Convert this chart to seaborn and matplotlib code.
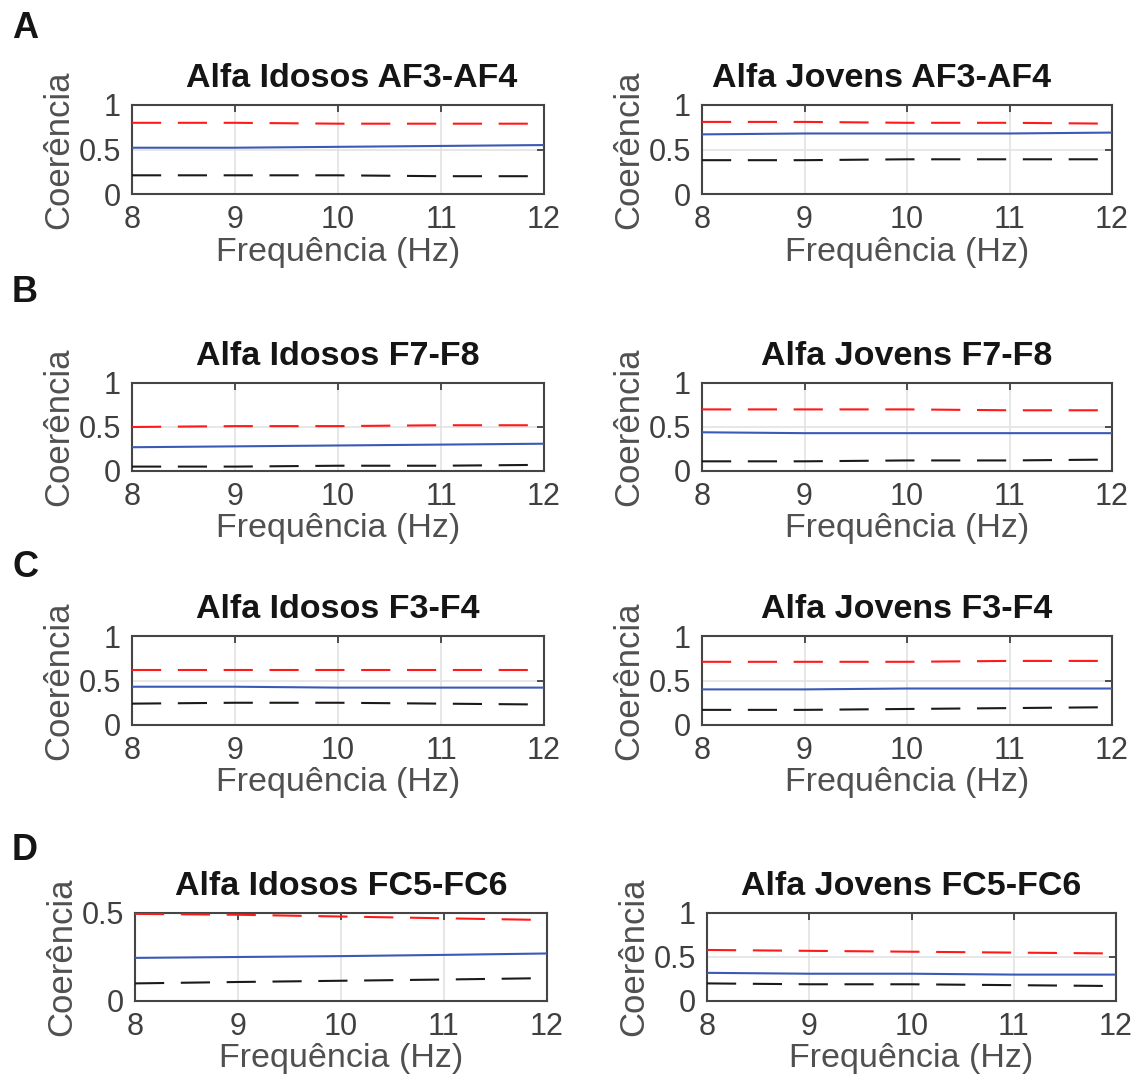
import matplotlib
matplotlib.use("Agg")
import matplotlib.pyplot as plt
import pandas as pd
import seaborn as sns

# Frequency axis (Hz)
freq = [8, 9, 10, 11, 12]

# Coherence, upper (red) and lower (black) significance bounds per electrode pair
idosos_af3af4_sup = [0.80, 0.80, 0.79, 0.79, 0.79]
idosos_af3af4_coh = [0.52, 0.52, 0.53, 0.54, 0.55]
idosos_af3af4_inf = [0.21, 0.21, 0.21, 0.20, 0.20]

jovens_af3af4_sup = [0.81, 0.81, 0.80, 0.80, 0.79]
jovens_af3af4_coh = [0.67, 0.68, 0.68, 0.68, 0.69]
jovens_af3af4_inf = [0.38, 0.38, 0.39, 0.39, 0.39]

idosos_f7f8_sup = [0.50, 0.51, 0.51, 0.52, 0.52]
idosos_f7f8_coh = [0.27, 0.28, 0.29, 0.30, 0.31]
idosos_f7f8_inf = [0.05, 0.05, 0.06, 0.06, 0.07]

jovens_f7f8_sup = [0.70, 0.70, 0.70, 0.69, 0.69]
jovens_f7f8_coh = [0.44, 0.43, 0.43, 0.43, 0.43]
jovens_f7f8_inf = [0.11, 0.11, 0.12, 0.12, 0.13]

idosos_f3f4_sup = [0.62, 0.62, 0.62, 0.62, 0.62]
idosos_f3f4_coh = [0.43, 0.43, 0.42, 0.42, 0.42]
idosos_f3f4_inf = [0.24, 0.25, 0.25, 0.24, 0.23]

jovens_f3f4_sup = [0.71, 0.71, 0.71, 0.72, 0.72]
jovens_f3f4_coh = [0.40, 0.40, 0.41, 0.41, 0.41]
jovens_f3f4_inf = [0.17, 0.17, 0.18, 0.19, 0.20]

idosos_fc5fc6_sup = [0.495, 0.49, 0.48, 0.47, 0.46]
idosos_fc5fc6_coh = [0.245, 0.25, 0.255, 0.262, 0.27]
idosos_fc5fc6_inf = [0.10, 0.108, 0.115, 0.122, 0.13]

jovens_fc5fc6_sup = [0.58, 0.57, 0.56, 0.55, 0.54]
jovens_fc5fc6_coh = [0.32, 0.31, 0.31, 0.30, 0.30]
jovens_fc5fc6_inf = [0.20, 0.19, 0.19, 0.18, 0.17]

titles = [
    "Alfa Idosos AF3-AF4", "Alfa Jovens AF3-AF4",
    "Alfa Idosos F7-F8", "Alfa Jovens F7-F8",
    "Alfa Idosos F3-F4", "Alfa Jovens F3-F4",
    "Alfa Idosos FC5-FC6", "Alfa Jovens FC5-FC6",
]
row_letters = ["A", "B", "C", "D"]
y_top = [1, 1, 1, 1, 1, 1, 0.5, 1]

series = [
    (idosos_af3af4_sup, idosos_af3af4_coh, idosos_af3af4_inf),
    (jovens_af3af4_sup, jovens_af3af4_coh, jovens_af3af4_inf),
    (idosos_f7f8_sup, idosos_f7f8_coh, idosos_f7f8_inf),
    (jovens_f7f8_sup, jovens_f7f8_coh, jovens_f7f8_inf),
    (idosos_f3f4_sup, idosos_f3f4_coh, idosos_f3f4_inf),
    (jovens_f3f4_sup, jovens_f3f4_coh, jovens_f3f4_inf),
    (idosos_fc5fc6_sup, idosos_fc5fc6_coh, idosos_fc5fc6_inf),
    (jovens_fc5fc6_sup, jovens_fc5fc6_coh, jovens_fc5fc6_inf),
]

sns.set_theme(style="white")
plt.rcParams["font.family"] = ["Liberation Sans", "DejaVu Sans"]

W, H = 1135, 1076
fig = plt.figure(figsize=(W / 100, H / 100), dpi=100)

# axes boxes in pixels: (left, top, right, bottom)
boxes = [
    (132, 105, 544, 194), (702, 105, 1112, 194),
    (132, 383, 544, 471), (702, 383, 1112, 471),
    (132, 636, 544, 725), (702, 636, 1112, 725),
    (135, 913, 547, 1001), (707, 913, 1116, 1001),
]
title_x = [0.534, 0.437, 0.5, 0.5, 0.5, 0.5, 0.5, 0.5]
letter_y = [38, 302, 577, 860]

tick_color = "#404040"
palette = {"sup": "#ff1a1a", "coh": "#3b59b6", "inf": "#1a1a1a"}
dashes = {"sup": (14, 8), "coh": "", "inf": (14, 8)}

for i, (box, title, (sup, coh, inf)) in enumerate(zip(boxes, titles, series)):
    l, t, r, b = box
    ax = fig.add_axes([l / W, 1 - b / H, (r - l) / W, (b - t) / H])
    df = pd.DataFrame({
        "freq": freq * 3,
        "coer": list(sup) + list(coh) + list(inf),
        "curva": ["sup"] * len(freq) + ["coh"] * len(freq) + ["inf"] * len(freq),
    })
    ax.grid(True, color="#e3e3e3", linewidth=1.2)
    ax.set_axisbelow(True)
    sns.lineplot(data=df, x="freq", y="coer", hue="curva", style="curva",
                 palette=palette, dashes=dashes, linewidth=1.5,
                 legend=False, ax=ax, zorder=3)
    ax.set_xlim(8, 12)
    ax.set_ylim(0, y_top[i])
    ax.set_xticks([8, 9, 10, 11, 12])
    if y_top[i] == 1:
        ax.set_yticks([0, 0.5, 1])
        ax.set_yticklabels(["0", "0.5", "1"])
    else:
        ax.set_yticks([0, 0.5])
        ax.set_yticklabels(["0", "0.5"])
    ax.tick_params(direction="in", length=5, width=1.3, colors=tick_color,
                   labelsize=22, top=True, right=True, pad=8)
    for s in ax.spines.values():
        s.set_color("#454545")
        s.set_linewidth(1.5)
        s.set_visible(True)
    ax.set_xlabel("Frequência (Hz)", fontsize=24.5, color="#505050", labelpad=1)
    ax.set_ylabel("Coerência", fontsize=25, color="#505050", labelpad=2)
    ax.set_title(title, fontsize=24.5, fontweight="bold", color="#151515",
                 x=title_x[i], pad=13)

for letter, ly in zip(row_letters, letter_y):
    fig.text(12 / W, 1 - ly / H, letter, fontsize=26, fontweight="bold",
             color="#151515", ha="left", va="baseline")

fig.savefig("out.png", dpi=100)
